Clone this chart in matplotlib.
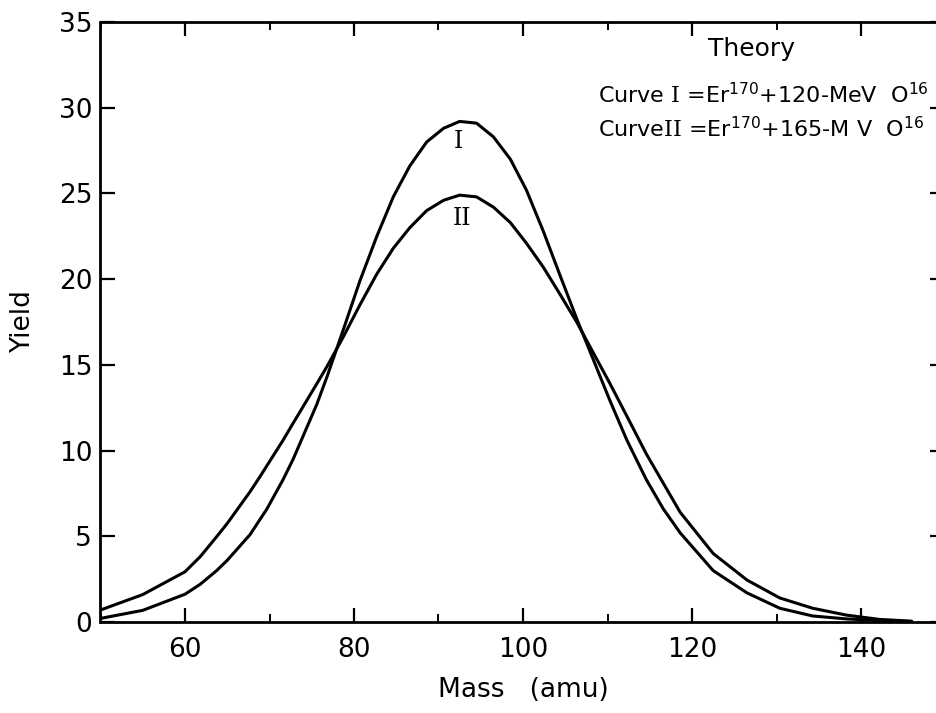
import matplotlib
matplotlib.use("Agg")
import matplotlib.pyplot as plt
from matplotlib.ticker import MultipleLocator

plt.rcParams['font.family'] = ['DejaVu Sans']
plt.rcParams['mathtext.fontset'] = 'custom'
plt.rcParams['mathtext.rm'] = 'DejaVu Serif'
plt.rcParams['mathtext.default'] = 'regular'

# Curve I (Er170 + 120-MeV O16)
mass_I = [50, 55, 60, 61.8, 63.75, 65, 67.7, 69.7, 71.6, 72.8, 75.6, 76.8, 78.7, 80.7,
          82.7, 84.65, 86.6, 88.6, 90.6, 92.5, 94.5, 96.5, 98.5, 100.4, 102.4, 104.4,
          106.35, 107.5, 110.3, 112.3, 114.6, 116.6, 118.6, 122.5, 126.5, 130.4, 134.3,
          138.3, 142.2, 146]
yield_I = [0.21, 0.68, 1.62, 2.2, 3.0, 3.6, 5.1, 6.6, 8.3, 9.5, 12.7, 14.3, 17.0, 19.9,
           22.5, 24.8, 26.6, 28.0, 28.8, 29.2, 29.1, 28.3, 27.0, 25.2, 22.8, 20.2,
           17.7, 16.3, 12.9, 10.6, 8.3, 6.6, 5.2, 3.0, 1.7, 0.8, 0.35,
           0.18, 0.08, 0.02]

# Curve II (Er170 + 165-MeV O16)
mass_II = [50, 55, 60, 61.8, 63.75, 65, 67.7, 68.9, 71.6, 72.8, 75.6, 76.8, 78.7, 80.7,
           82.7, 84.65, 86.6, 88.6, 90.6, 92.5, 94.5, 96.5, 98.5, 100.4, 102.4, 104.4,
           106.35, 110.3, 112.3, 114.6, 116.6, 118.6, 122.5, 126.5, 130.4, 134.3,
           138.3, 142.2, 146]
yield_II = [0.7, 1.6, 2.93, 3.81, 4.98, 5.75, 7.6, 8.5, 10.6, 11.6, 13.9, 14.9, 16.6, 18.5,
            20.3, 21.8, 23.0, 24.0, 24.6, 24.9, 24.8, 24.2, 23.3, 22.1, 20.7, 19.1,
            17.5, 13.9, 12.0, 9.8, 8.1, 6.4, 4.0, 2.45, 1.4, 0.8,
            0.4, 0.15, 0.05]

x_ticks = [60, 80, 100, 120, 140]
x_ticklabels = ['60', '80', '100', '120', '140']

fig = plt.figure(figsize=(9.37, 7.13), dpi=100)
W, H = 937, 713
ax = fig.add_axes([100.5 / W, 1 - 622 / H, 845 / W, 600 / H])

ax.plot(mass_I, yield_I, color='black', lw=2.2, solid_joinstyle='round', solid_capstyle='round')
ax.plot(mass_II, yield_II, color='black', lw=2.2, solid_joinstyle='round', solid_capstyle='round')

ax.set_xlim(50, 150)
ax.set_ylim(0, 35)
ax.xaxis.set_minor_locator(MultipleLocator(10))
ax.yaxis.set_major_locator(MultipleLocator(5))
ax.set_xticks(x_ticks)
ax.set_xticklabels(x_ticklabels)

for s in ax.spines.values():
    s.set_linewidth(2.0)

ax.tick_params(axis='both', which='major', direction='in', width=1.6, labelsize=19,
               top=True, right=True)
ax.tick_params(axis='x', which='major', length=10, pad=11)
ax.tick_params(axis='y', which='major', length=11, pad=6)
ax.tick_params(axis='x', which='minor', direction='in', length=6, width=1.4, top=True)

ax.set_xlabel('Mass   (amu)', fontsize=19, labelpad=10)
ax.set_ylabel('Yield', fontsize=19, labelpad=16)

ax.text(92.4, 28.0, 'I', family='DejaVu Serif', fontsize=17, ha='center', va='center')
ax.text(92.8, 23.55, 'II', family='DejaVu Serif', fontsize=17, ha='center', va='center')

fig.text(752 / W, 1 - 49 / H, 'Theory', fontsize=18, ha='center', va='center')
fig.text(598 / W, 1 - 103 / H, r'Curve $\mathrm{I}$ =Er$^{170}$+120-MeV  O$^{16}$',
         fontsize=16, ha='left', va='baseline')
fig.text(598 / W, 1 - 137 / H, r'Curve$\mathrm{II}$ =Er$^{170}$+165-M V  O$^{16}$',
         fontsize=16, ha='left', va='baseline')

fig.savefig('out.png', dpi=100)
